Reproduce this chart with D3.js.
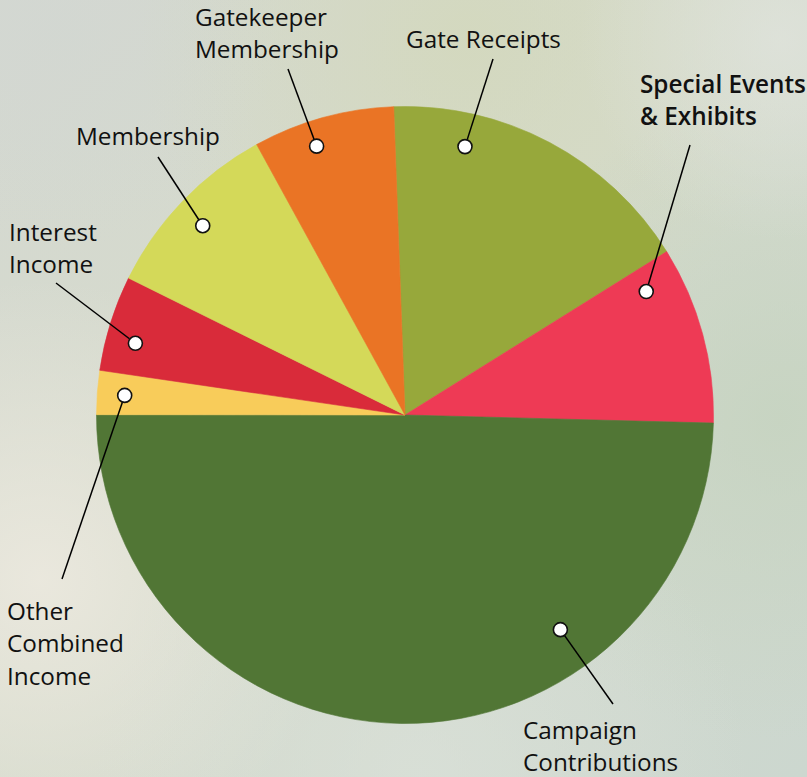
<!DOCTYPE html>
<html>
<head>
<meta charset="utf-8">
<script src="https://cdn.jsdelivr.net/npm/d3@7"></script>
<style>
  html, body { margin: 0; padding: 0; background: #d6dcd2; }
  svg { display: block; }
</style>
</head>
<body>
<svg id="chart" width="807" height="777"></svg>
<script>
// ---- data ----
const categories = ["Gate Receipts", "Special Events & Exhibits", "Campaign Contributions",
  "Other Combined Income", "Interest Income", "Membership", "Gatekeeper Membership"];
const shares = [16.7, 9.3, 49.6, 2.3, 5.0, 9.7, 7.4];
const colors = ["#97a83b", "#ee3a55", "#517635", "#f8cc5a", "#d92b3a", "#d4d959", "#ea7425"];

// ---- label layout (annotation styling, not data) ----
const labelLines = [
  ["Gate Receipts"],
  ["Special Events", "& Exhibits"],
  ["Campaign", "Contributions"],
  ["Other", "Combined", "Income"],
  ["Interest", "Income"],
  ["Membership"],
  ["Gatekeeper", "Membership"]
];
const labelBold = [false, true, false, false, false, false, false];
// dot position: angle (deg, clockwise from 12 o'clock) and radius
const dotAngle = [12.6, 62.9, 144.1, 274.0, 284.9, 313.1, 341.8];
const dotRadius = [275, 271, 265, 281, 279, 277, 283];
// leader line outer end (relative to chart centre)
const leaderEnd = [[88, -356], [285, -270], [208, 289], [-343, 164], [-349, -132], [-247, -258], [-117, -346]];
// text anchor (left x, first baseline y) relative to chart centre
const textPos = [[1, -367], [235, -322], [118, 324], [-398, 205], [-396, -174], [-329, -270], [-210, -389]];

const W = 807, H = 777;
const cx = 405, cy = 415, R = 308.5;
const startDeg = -2.1;

const svg = d3.select("#chart");
const defs = svg.append("defs");

// ---- background ----
const bg = defs.append("linearGradient").attr("id", "bgBase")
  .attr("x1", 0).attr("y1", 0).attr("x2", 1).attr("y2", 1);
bg.append("stop").attr("offset", "0%").attr("stop-color", "#d4d8d1");
bg.append("stop").attr("offset", "45%").attr("stop-color", "#d6dbcc");
bg.append("stop").attr("offset", "100%").attr("stop-color", "#ccd7cf");
svg.append("rect").attr("width", W).attr("height", H).attr("fill", "url(#bgBase)");

function blob(id, x, y, r, color, op) {
  const g = defs.append("radialGradient").attr("id", id)
    .attr("gradientUnits", "userSpaceOnUse").attr("cx", x).attr("cy", y).attr("r", r);
  g.append("stop").attr("offset", "0%").attr("stop-color", color).attr("stop-opacity", op);
  g.append("stop").attr("offset", "100%").attr("stop-color", color).attr("stop-opacity", 0);
  svg.append("rect").attr("width", W).attr("height", H).attr("fill", `url(#${id})`);
}
blob("b1", 40, 580, 300, "#ece9df", 0.9);
blob("b2", 470, 40, 330, "#d3d8bb", 0.8);
blob("b3", 780, 420, 320, "#c5d3bf", 0.8);
blob("b4", 780, 40, 200, "#dfe3dc", 0.8);
blob("b5", 60, 30, 220, "#d2d7d2", 0.7);
blob("b6", 420, 777, 330, "#dde3dc", 0.6);

// ---- pie ----
const g = svg.append("g").attr("transform", `translate(${cx},${cy})`);
const rad = d => d * Math.PI / 180;
const pie = d3.pie().sort(null).value(d => d)
  .startAngle(rad(startDeg)).endAngle(rad(startDeg) + 2 * Math.PI);
const arcs = pie(shares);
const arc = d3.arc().innerRadius(0).outerRadius(R);

g.selectAll("path.slice").data(arcs).join("path")
  .attr("class", "slice")
  .attr("d", arc)
  .attr("fill", (d, i) => colors[i])
  .attr("stroke", (d, i) => colors[i])
  .attr("stroke-width", 0.6);

// ---- leader lines & dots ----
const dots = arcs.map((d, i) => d3.pointRadial(rad(dotAngle[i]), dotRadius[i]));

g.selectAll("line.leader").data(arcs).join("line")
  .attr("class", "leader")
  .attr("x1", (d, i) => dots[i][0]).attr("y1", (d, i) => dots[i][1])
  .attr("x2", (d, i) => leaderEnd[i][0]).attr("y2", (d, i) => leaderEnd[i][1])
  .attr("stroke", "#000").attr("stroke-width", 1.5);

g.selectAll("circle.dot").data(arcs).join("circle")
  .attr("class", "dot")
  .attr("cx", (d, i) => dots[i][0]).attr("cy", (d, i) => dots[i][1])
  .attr("r", 7)
  .attr("fill", "#fff").attr("stroke", "#111").attr("stroke-width", 1.6);

// ---- labels ----
const lineH = 32.3;
g.selectAll("text.label").data(arcs).join("text")
  .attr("class", "label")
  .attr("x", (d, i) => textPos[i][0]).attr("y", (d, i) => textPos[i][1])
  .attr("font-family", "'Open Sans', 'Noto Sans', sans-serif")
  .attr("font-size", 24.3)
  .attr("font-weight", (d, i) => labelBold[i] ? 600 : 400)
  .attr("fill", "#111")
  .each(function (d, i) {
    const t = d3.select(this);
    labelLines[i].forEach((ln, k) => {
      t.append("tspan").attr("x", textPos[i][0]).attr("dy", k === 0 ? 0 : lineH).text(ln);
    });
  });
</script>
</body>
</html>
